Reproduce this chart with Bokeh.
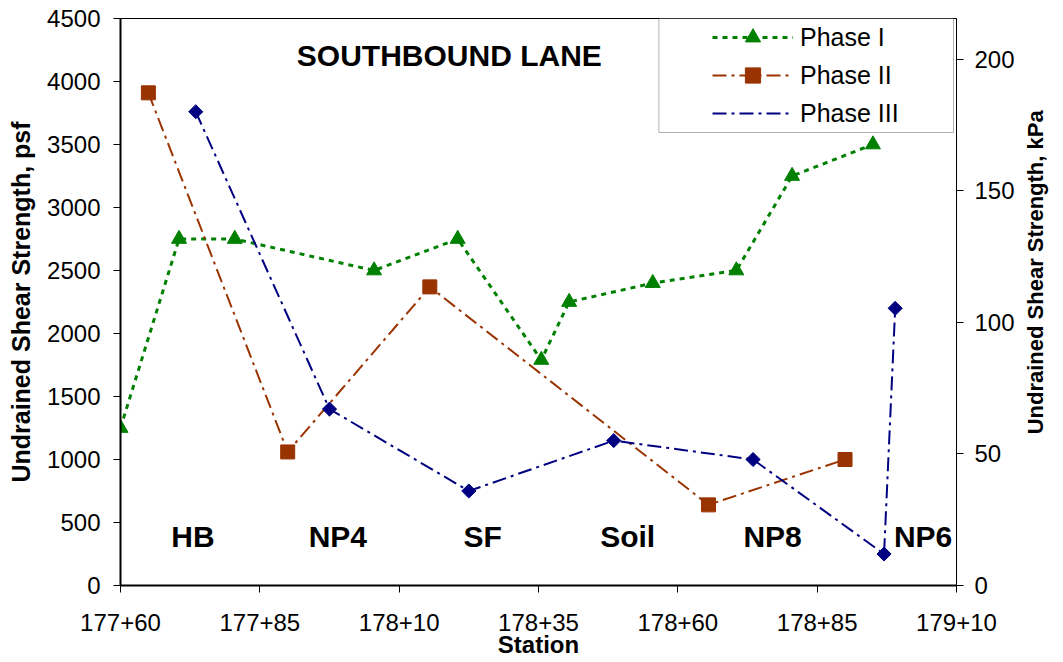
import math
from bokeh.plotting import figure
from bokeh.models import (Range1d, LinearAxis, FixedTicker, Legend, LegendItem,
                          Label, BoxAnnotation)
from bokeh.embed import file_html
from bokeh.resources import INLINE
from bokeh.core.properties import value

# ---------------- data ----------------
station_ticks = [17760, 17785, 17810, 17835, 17860, 17885, 17910]
station_tick_labels = ["177+60", "177+85", "178+10", "178+35", "178+60", "178+85", "179+10"]
psf_ticks = [0, 500, 1000, 1500, 2000, 2500, 3000, 3500, 4000, 4500]
kpa_ticks = [0, 50, 100, 150, 200]
PSF_PER_KPA = 20.885

phase1_station = [17760, 17770.5, 17780.5, 17805.5, 17820.5, 17835.5, 17840.5, 17855.5, 17870.5, 17880.5, 17895]
phase1_psf = [1250, 2750, 2750, 2500, 2750, 1790, 2250, 2400, 2500, 3250, 3500]

phase2_station = [17765, 17790, 17815.5, 17865.5, 17890]
phase2_psf = [3910, 1060, 2370, 640, 1000]

phase3_station = [17773.5, 17797.5, 17822.5, 17848.5, 17873.5, 17897, 17899]
phase3_psf = [3760, 1400, 750, 1150, 1000, 250, 2200]

series_names = ["Phase I", "Phase II", "Phase III"]

zone_names = ["HB", "NP4", "SF", "Soil", "NP8", "NP6"]
zone_station = [17773, 17799, 17825, 17851, 17877, 17904]
zone_psf = [390, 390, 390, 390, 390, 390]

title_text = "SOUTHBOUND LANE"
x_title = "Station"
y_title = "Undrained Shear Strength, psf"
y2_title = "Undrained Shear Strength, kPa"

# ---------------- style ----------------
FONT = "Liberation Sans"
GREEN = "#008000"
BROWN = "#993300"
NAVY = "#000080"
W, H = 1063, 662
BL, BR, BT, BB = 120, 106, 18, 77
FW, FH = W - BL - BR, H - BT - BB
X0, X1 = station_ticks[0], station_ticks[-1]
Y0, Y1 = psf_ticks[0], psf_ticks[-1]
Y2_TITLE_START = 1200   # psf level where the rotated right-axis title starts

p = figure(width=W, height=H,
           min_border_left=BL, min_border_right=BR, min_border_top=BT, min_border_bottom=BB,
           x_range=Range1d(X0, X1), y_range=Range1d(Y0, Y1),
           output_backend="svg", toolbar_location=None)
p.xgrid.visible = False
p.ygrid.visible = False
p.outline_line_color = "black"
p.outline_line_width = 1
p.background_fill_color = "white"
p.border_fill_color = "white"

def style_axis(ax, label, label_size, line_width):
    if label:
        ax.axis_label = label
    ax.axis_label_text_font = FONT
    ax.axis_label_text_font_style = "bold"
    ax.axis_label_text_font_size = label_size
    ax.axis_label_text_color = "black"
    ax.major_label_text_font = FONT
    ax.major_label_text_font_size = "24px"
    ax.major_label_text_color = "black"
    ax.axis_line_color = "black"
    ax.axis_line_width = line_width
    ax.major_tick_line_color = "black"
    ax.major_tick_out = 7
    ax.major_tick_in = 0
    ax.minor_tick_out = 0
    ax.minor_tick_in = 0

# pixel offsets relative to the plot frame -> data space (for annotations only)
def fx(px):
    return X0 + px * (X1 - X0) / FW

def fy(py):
    return Y1 - py * (Y1 - Y0) / FH

xa = p.xaxis[0]
xa.ticker = FixedTicker(ticks=station_ticks)
xa.major_label_overrides = dict(zip(station_ticks, station_tick_labels))
style_axis(xa, x_title, "24px", 2)
xa.major_label_standoff = 21
xa.axis_label_standoff = -3

ya = p.yaxis[0]
ya.ticker = FixedTicker(ticks=psf_ticks)
style_axis(ya, y_title, "25px", 2)
ya.major_label_standoff = 13
ya.axis_label_standoff = 9

p.extra_y_ranges = {"kpa": Range1d(Y0 / PSF_PER_KPA, Y1 / PSF_PER_KPA)}
ra = LinearAxis(y_range_name="kpa", ticker=FixedTicker(ticks=kpa_ticks))
style_axis(ra, None, "22px", 1)
ra.major_label_standoff = 11
p.add_layout(ra, "right")

# right-axis title (reads bottom-to-top) drawn as the single label of a bare axis
ta = LinearAxis(ticker=FixedTicker(ticks=[Y2_TITLE_START]),
                major_label_overrides={Y2_TITLE_START: y2_title})
ta.axis_line_color = None
ta.major_tick_line_color = None
ta.major_tick_out = 0
ta.major_tick_in = 0
ta.minor_tick_out = 0
ta.minor_tick_in = 0
ta.major_label_text_font = FONT
ta.major_label_text_font_style = "bold"
ta.major_label_text_font_size = "22px"
ta.major_label_text_color = "black"
ta.major_label_orientation = math.pi / 2
ta.major_label_standoff = 18
p.add_layout(ta, "right")

# ---------------- series ----------------
r1l = p.line(phase1_station, phase1_psf, line_color=GREEN, line_width=3, line_dash="5 5")
r1s = p.scatter(phase1_station, phase1_psf, marker="triangle", size=15,
                fill_color=GREEN, line_color=GREEN)
r2l = p.line(phase2_station, phase2_psf, line_color=BROWN, line_width=2, line_dash="14 5 3 5")
r2s = p.scatter(phase2_station, phase2_psf, marker="square", size=14,
                fill_color=BROWN, line_color=BROWN)
r3l = p.line(phase3_station, phase3_psf, line_color=NAVY, line_width=2, line_dash="14 5 3 5")
r3s = p.scatter(phase3_station, phase3_psf, marker="square", size=10, angle=math.pi / 4,
                fill_color=NAVY, line_color=NAVY)
# legend-only diamond glyph (legend ignores marker angle)
r3leg = p.scatter(x=[], y=[], marker="diamond", size=15, fill_color=NAVY, line_color=NAVY)

p.text(x=zone_station, y=zone_psf, text=zone_names, text_font=value(FONT),
       text_font_style="bold", text_font_size="30px", text_align="center",
       text_baseline="middle", text_color="black")

p.add_layout(Label(x=17819, y=4206, text=title_text, text_font=FONT, text_font_style="bold",
                   text_font_size="30px", text_align="center", text_baseline="middle",
                   text_color="black"))

p.add_layout(BoxAnnotation(left=fx(539), right=fx(834), top=fy(0), bottom=fy(114),
                           fill_color="white", fill_alpha=1.0, line_color="black",
                           line_width=1, line_dash="solid"))

legend = Legend(items=[LegendItem(label=series_names[0], renderers=[r1l, r1s]),
                       LegendItem(label=series_names[1], renderers=[r2l, r2s]),
                       LegendItem(label=series_names[2], renderers=[r3l, r3leg])],
                location=(592, FH - 114), padding=0, margin=0, spacing=0,
                glyph_width=81, glyph_height=38, label_height=38, label_standoff=7,
                label_text_font=FONT, label_text_font_size="25px", label_text_color="black",
                background_fill_alpha=0, border_line_alpha=0)
p.add_layout(legend)

open("out.html", "w").write(file_html(p, INLINE))
